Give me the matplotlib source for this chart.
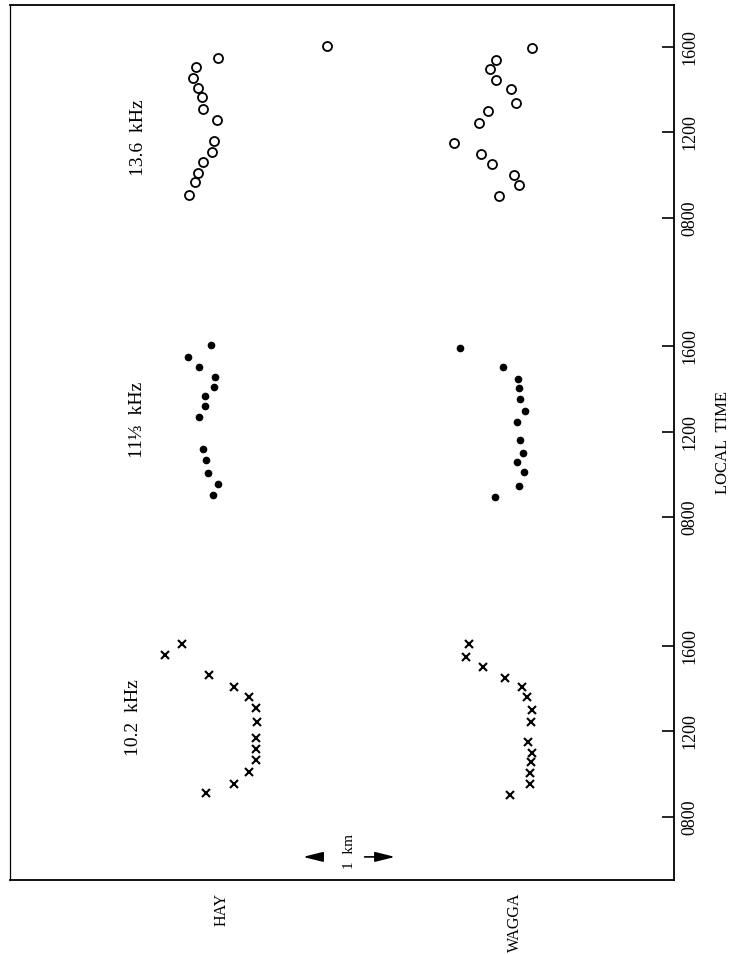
import matplotlib.pyplot as plt

plt.rcParams['font.family'] = ['Liberation Serif', 'DejaVu Serif']

# heights in km (horizontal axis in the rotated page), times in hours local time
stations = ["HAY", "WAGGA"]
station_km = [2.30, 5.49]

hay_136_time = [16.04, 15.47, 15.06, 14.53, 14.10, 13.66, 13.10, 12.59, 11.62, 11.08, 10.61, 10.11, 9.69, 9.06]
hay_136_km = [3.45, 2.26, 2.02, 1.99, 2.04, 2.09, 2.10, 2.25, 2.22, 2.20, 2.10, 2.04, 2.01, 1.95]
wagga_136_time = [15.94, 15.38, 14.96, 14.47, 14.03, 13.39, 13.02, 12.43, 11.52, 11.01, 10.54, 10.03, 9.53, 9.03]
wagga_136_km = [5.67, 5.28, 5.22, 5.28, 5.45, 5.50, 5.20, 5.10, 4.83, 5.12, 5.24, 5.48, 5.53, 5.31]

hay_113_time = [16.08, 15.51, 15.05, 14.58, 14.12, 13.67, 13.23, 12.70, 11.20, 10.70, 10.10, 9.55, 9.07]
hay_113_km = [2.19, 1.93, 2.05, 2.23, 2.22, 2.12, 2.12, 2.05, 2.10, 2.13, 2.15, 2.26, 2.21]
wagga_113_time = [15.91, 15.05, 14.46, 14.06, 13.54, 12.98, 12.45, 11.63, 11.00, 10.61, 10.13, 9.46, 8.97]
wagga_113_km = [4.89, 5.36, 5.52, 5.53, 5.54, 5.60, 5.51, 5.54, 5.58, 5.51, 5.59, 5.53, 5.27]

hay_102_time = [16.07, 15.57, 14.62, 14.08, 13.62, 13.11, 12.46, 11.69, 11.17, 10.66, 10.10, 9.56, 9.11]
hay_102_km = [1.87, 1.69, 2.16, 2.44, 2.60, 2.67, 2.69, 2.67, 2.67, 2.67, 2.60, 2.44, 2.13]
wagga_102_time = [16.07, 15.49, 15.03, 14.51, 14.06, 13.60, 13.00, 12.46, 11.49, 10.99, 10.57, 10.06, 9.54, 9.04]
wagga_102_km = [4.99, 4.96, 5.14, 5.38, 5.56, 5.62, 5.67, 5.66, 5.63, 5.67, 5.66, 5.65, 5.65, 5.43]

freq_labels = ["10.2  kHz", "11⅓  kHz", "13.6  kHz"]
tick_hours = [8, 12, 16]
tick_labels = ["0800", "1200", "1600"]

# each frequency panel is shifted along the time axis
offsets = [0, 14, 28]

fig = plt.figure(figsize=(7.31, 9.55), dpi=100)
ax = fig.add_axes([10 / 731, 75 / 955, 664 / 731, 875 / 955])

def shift(times, off):
    return [t + off for t in times]

cross = dict(marker="x", ls="none", color="black", ms=6, mew=1.5)
dot = dict(marker="o", ls="none", color="black", ms=4.5)
ring = dict(marker="o", ls="none", mfc="none", mec="black", ms=6.5, mew=1.3)

ax.plot(hay_102_km, shift(hay_102_time, offsets[0]), **cross)
ax.plot(wagga_102_km, shift(wagga_102_time, offsets[0]), **cross)
ax.plot(hay_113_km, shift(hay_113_time, offsets[1]), **dot)
ax.plot(wagga_113_km, shift(wagga_113_time, offsets[1]), **dot)
ax.plot(hay_136_km, shift(hay_136_time, offsets[2]), **ring)
ax.plot(wagga_136_km, shift(wagga_136_time, offsets[2]), **ring)

# frequency labels
label_x = [1.34, 1.39, 1.40]
label_t = [12.63, 12.56, 11.74]
for lab, lx, lt, off in zip(freq_labels, label_x, label_t, offsets):
    ax.text(lx, lt + off, lab, rotation=90, ha="center", va="center", fontsize=14)

# 1 km scale bar
bar_start = 3.185
bar_y = 6.13
ax.annotate("", xy=(bar_start, bar_y), xytext=(bar_start + 0.19, bar_y),
            arrowprops=dict(arrowstyle="-|>,head_length=1.2,head_width=0.3",
                            color="black", lw=1.2, shrinkA=0, shrinkB=0, mutation_scale=10))
ax.annotate("", xy=(bar_start + 1.0, bar_y), xytext=(bar_start + 0.67, bar_y),
            arrowprops=dict(arrowstyle="-|>,head_length=1.2,head_width=0.3",
                            color="black", lw=1.2, shrinkA=0, shrinkB=0, mutation_scale=10))
ax.text(bar_start + 0.5, bar_y + 0.23, "1  km", rotation=90, ha="center", va="center", fontsize=11)

ax.set_xlim(0, 664 / 92)
ax.set_ylim(5.05, 45.96)

yticks = []
ylabels = []
for off in offsets:
    yticks += [h + off for h in tick_hours]
    ylabels += tick_labels
ax.yaxis.tick_right()
ax.set_yticks(yticks)
ax.set_yticklabels(ylabels, rotation=90, va="center", fontsize=13)
ax.tick_params(axis="y", direction="in", length=9, width=1.2, pad=5)
ax.yaxis.set_label_position("right")
ax.set_ylabel("LOCAL  TIME", fontsize=12, labelpad=12)

ax.set_xticks(station_km)
ax.set_xticklabels(stations, rotation=90, fontsize=11.5)
ax.tick_params(axis="x", length=0, pad=9)

for s in ax.spines.values():
    s.set_linewidth(1.3)
ax.spines["left"].set_linewidth(0.9)

plt.savefig("out.png", dpi=100)
plt.close()
